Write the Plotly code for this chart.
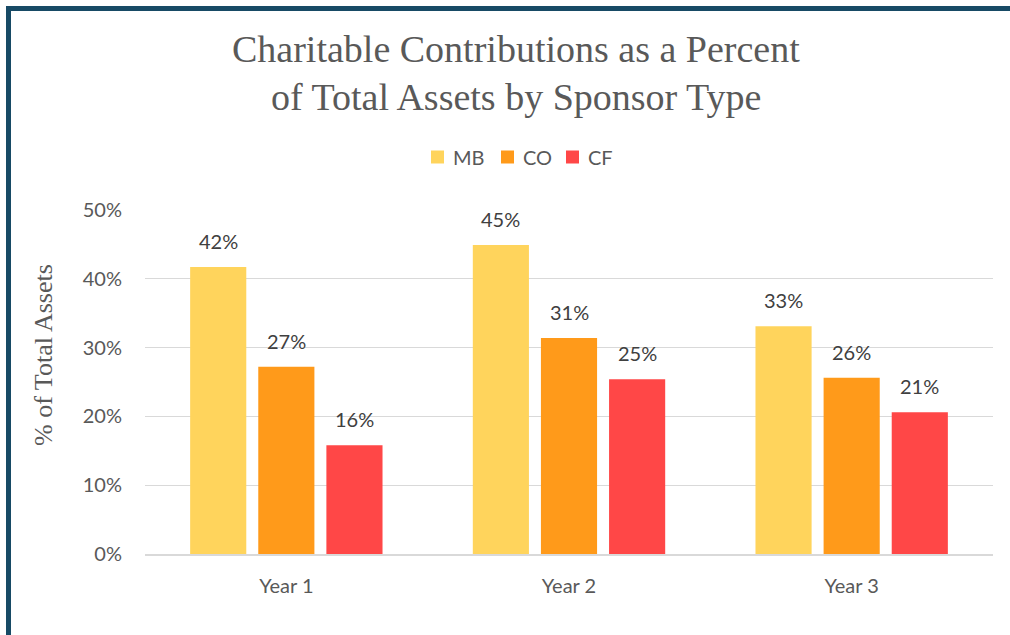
import plotly.graph_objects as go

categories = ["Year 1", "Year 2", "Year 3"]
series_names = ["MB", "CO", "CF"]
mb_values = [41.7, 44.9, 33.1]
co_values = [27.2, 31.4, 25.6]
cf_values = [15.8, 25.4, 20.6]
colors = ["#FFD45C", "#FF9A1A", "#FF4747"]
y_ticks = [0, 10, 20, 30, 40, 50]
y_tick_labels = ["0%", "10%", "20%", "30%", "40%", "50%"]
title_lines = ["Charitable Contributions as a Percent", "of Total Assets by Sponsor Type"]
y_title = "% of Total Assets"

W, H = 1010, 635
L, R, T, B = 145, 993, 210, 554
BARGAP, GROUPGAP = 0.277, 0.176
SANS = "Lato, Carlito, Open Sans, sans-serif"
SERIF = "Liberation Serif, Times New Roman, serif"
GREY = "#595959"

def px_x(p):
    return (p - L) / (R - L)

def px_y(p):
    return (B - p) / (B - T)

all_values = [mb_values, co_values, cf_values]
fig = go.Figure()
for name, vals, col in zip(series_names, all_values, colors):
    fig.add_trace(go.Bar(name=name, x=categories, y=vals,
                         marker=dict(color=col, line=dict(width=0)), showlegend=False))

# data labels as annotations above each bar
cat_px = (R - L) / len(categories)
slot_px = cat_px * (1 - BARGAP) / len(series_names)
annotations = []
for i, vals in enumerate(all_values):
    off = (i - (len(series_names) - 1) / 2) * slot_px
    for c, v in zip(categories, vals):
        annotations.append(dict(x=c, y=v, xref="x", yref="y", text=f"{round(v)}%",
                                showarrow=False, xshift=off, yshift=26, yanchor="middle",
                                font=dict(family=SANS, size=20, color="#404040")))

# title
for line, ypix in zip(title_lines, [49, 97]):
    annotations.append(dict(x=px_x(516), y=px_y(ypix), xref="paper", yref="paper", text=line,
                            showarrow=False, xanchor="center", yanchor="middle",
                            font=dict(family=SERIF, size=38, color=GREY)))
# y-axis title
annotations.append(dict(x=px_x(43), y=px_y(355), xref="paper", yref="paper", text=y_title,
                        textangle=-90, showarrow=False, xanchor="center", yanchor="middle",
                        font=dict(family=SERIF, size=26, color=GREY)))

# custom legend
shapes = []
legend_sq = [431, 501, 566]
for name, col, sx in zip(series_names, colors, legend_sq):
    shapes.append(dict(type="rect", xref="paper", yref="paper",
                       x0=px_x(sx), x1=px_x(sx + 13), y0=px_y(163.5), y1=px_y(150.5),
                       fillcolor=col, line=dict(width=0)))
    annotations.append(dict(x=px_x(sx + 20), y=px_y(157), xref="paper", yref="paper", text=name,
                            showarrow=False, xanchor="left", yanchor="middle",
                            font=dict(family=SANS, size=20, color=GREY)))

border = "#174A65"
shapes.append(dict(type="line", xref="paper", yref="paper",
                   x0=px_x(8.5), x1=px_x(8.5), y0=px_y(700), y1=px_y(6),
                   line=dict(color=border, width=5)))
shapes.append(dict(type="line", xref="paper", yref="paper",
                   x0=px_x(6), x1=px_x(1100), y0=px_y(8.5), y1=px_y(8.5),
                   line=dict(color=border, width=5)))

fig.update_layout(
    width=W, height=H,
    margin=dict(l=L, r=W - R, t=T, b=H - B, autoexpand=False),
    paper_bgcolor="white", plot_bgcolor="white",
    barmode="group", bargap=BARGAP, bargroupgap=GROUPGAP,
    showlegend=False,
    annotations=annotations, shapes=shapes,
    yaxis=dict(range=[0, 50], tickvals=y_ticks, ticktext=y_tick_labels,
               showgrid=True, gridcolor="#D9D9D9", gridwidth=1.3, zeroline=False,
               tickfont=dict(family=SANS, size=20, color=GREY),
               ticklabelstandoff=22),
    xaxis=dict(showline=True, linecolor="#D9D9D9", linewidth=2, ticks="",
               tickfont=dict(family=SANS, size=20, color=GREY),
               ticklabelstandoff=13),
)

fig.write_html("out.html", config={"displayModeBar": False},
               post_script="document.body.style.margin='0';")
